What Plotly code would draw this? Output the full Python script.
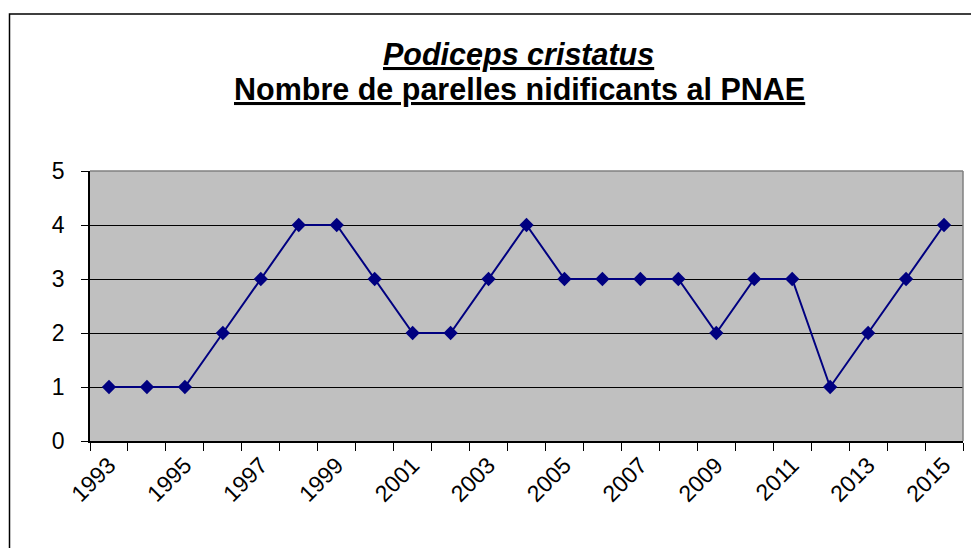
import plotly.graph_objects as go

years = [str(y) for y in range(1993, 2016)]
pairs = [1, 1, 1, 2, 3, 4, 4, 3, 2, 2, 3, 4, 3, 3, 3, 3, 2, 3, 3, 1, 2, 3, 4]
tick_text = [y if int(y) % 2 == 1 else "" for y in years]
title_1 = "<u><b><i>Podiceps cristatus</i></b></u>"
title_2 = "<u><b>Nombre de parelles nidificants al PNAE</b></u>"

# page body has an 8px margin; figure coordinates are offset accordingly
W, H = 979, 548
L, R, T, B = 82, 24, 163, 115
pw, ph = W - L - R, H - T - B
FONT = "Liberation Sans, Arial, sans-serif"


def px(xf):
    return (xf - L) / pw


def py(yf):
    return (H - B - yf) / ph


fig = go.Figure()
fig.add_trace(go.Scatter(
    x=years, y=pairs, mode="lines+markers",
    line=dict(color="#000080", width=2),
    marker=dict(symbol="diamond", size=11, color="#000080"),
    showlegend=False, hoverinfo="x+y"))

fig.update_layout(
    width=W, height=H,
    margin=dict(l=L, r=R, t=T, b=B),
    paper_bgcolor="white", plot_bgcolor="#C0C0C0",
    font=dict(family=FONT, color="black"),
    xaxis=dict(
        type="category", tickmode="array", tickvals=years, ticktext=tick_text,
        tickson="boundaries", ticks="outside", ticklen=8, tickcolor="black",
        tickangle=-45, tickfont=dict(size=23),
        showline=True, linecolor="black", linewidth=1.5,
        showgrid=False, zeroline=False, range=[-0.5, len(years) - 0.5]),
    yaxis=dict(
        range=[0, 5], tickvals=[0, 1, 2, 3, 4, 5], ticks="outside", ticklen=7,
        tickcolor="black", tickfont=dict(size=23), ticklabelstandoff=12,
        showline=True, linecolor="black", linewidth=1.5,
        showgrid=True, gridcolor="black", gridwidth=1, zeroline=False),
    annotations=[
        dict(text=title_1, xref="paper", yref="paper", x=px(510), y=py(46),
             xanchor="center", yanchor="middle", showarrow=False,
             font=dict(size=30.5, family=FONT, color="black")),
        dict(text=title_2, xref="paper", yref="paper", x=px(511), y=py(82),
             xanchor="center", yanchor="middle", showarrow=False,
             font=dict(size=30.5, family=FONT, color="black")),
    ],
    shapes=[
        dict(type="line", xref="paper", yref="paper", x0=0, x1=1, y0=1, y1=1,
             line=dict(color="#808080", width=1.5)),
        dict(type="line", xref="paper", yref="paper", x0=1, x1=1, y0=0, y1=1,
             line=dict(color="#808080", width=1.5)),
        dict(type="rect", xref="paper", yref="paper",
             x0=px(1.5), x1=px(990), y0=py(560), y1=py(6),
             line=dict(color="black", width=1.5), layer="below"),
    ],
)

fig.write_html("out.html")
